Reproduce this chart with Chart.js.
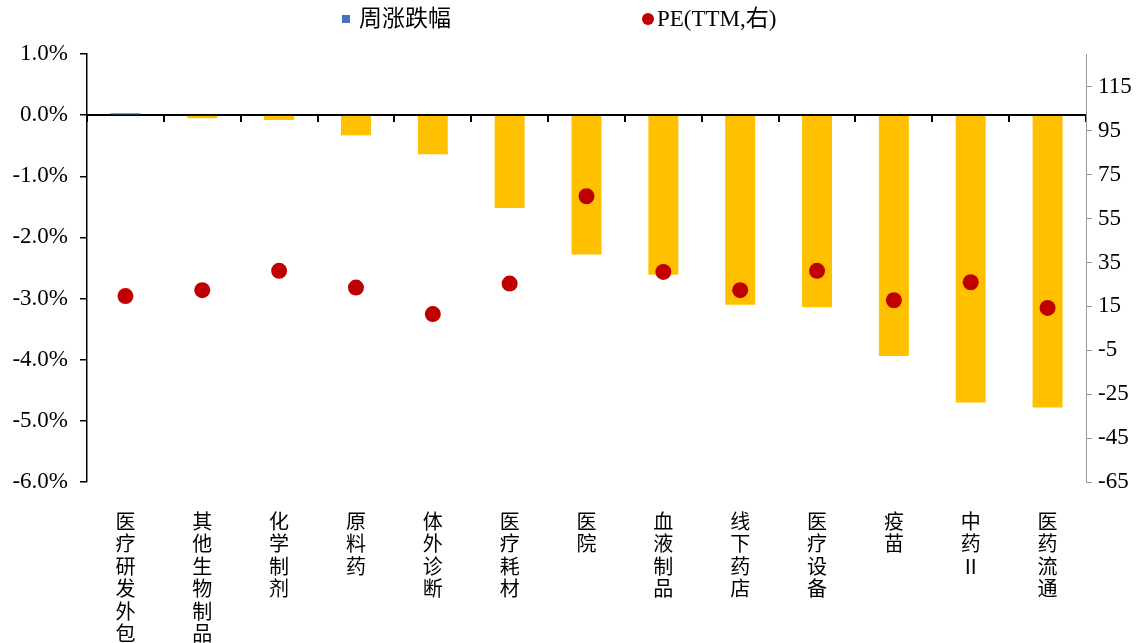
<!DOCTYPE html>
<html>
<head>
<meta charset="utf-8">
<script src="https://cdn.jsdelivr.net/npm/chart.js@4.4.1/dist/chart.umd.min.js"></script>
<style>
    html, body { margin: 0; padding: 0; background: #fff; }
    #wrap { position: relative; width: 1148px; height: 643px; }
    #legend { position: absolute; top: 0; left: 0; width: 1148px; height: 40px; font-family: 'Liberation Serif', 'Noto Sans CJK SC', serif; font-size: 23px; color: #000; }
    .item { position: absolute; top: 5px; line-height: 28px; white-space: nowrap; }
    .sq { display: inline-block; width: 8px; height: 8px; background: #4472C4; margin-right: 9px; vertical-align: middle; position: relative; top: -2px; }
    .dot { display: inline-block; width: 12px; height: 12px; border-radius: 50%; background: #C00000; margin-right: 3px; vertical-align: middle; position: relative; top: -2px; }
</style>
</head>
<body>
<div id="wrap">
    <canvas id="chart"></canvas>
    <div id="legend">
        <div class="item" style="left: 342px;"><span class="sq"></span>周涨跌幅</div>
        <div class="item" style="left: 642px;"><span class="dot"></span>PE(TTM,右)</div>
    </div>
</div>
<script>
// categories and series
const categories = ['医疗研发外包', '其他生物制品', '化学制剂', '原料药', '体外诊断', '医疗耗材', '医院', '血液制品', '线下药店', '医疗设备', '疫苗', '中药Ⅱ', '医药流通'];
const weeklyChange = [0.03, -0.05, -0.08, -0.33, -0.64, -1.52, -2.28, -2.61, -3.10, -3.14, -3.94, -4.70, -4.78];
const peTTM = [19.7, 22.4, 31.2, 23.6, 11.5, 25.4, 65.2, 30.7, 22.4, 31.2, 17.8, 26.0, 14.3];
const peTicks = [-65, -45, -25, -5, 15, 35, 55, 75, 95, 115];

const serif = "'Liberation Serif', 'Noto Sans CJK SC', serif";

new Chart(document.getElementById('chart'), {
    type: 'bar',
    data: {
        labels: categories,
        datasets: [{
            label: '周涨跌幅',
            data: weeklyChange,
            backgroundColor: weeklyChange.map(v => v >= 0 ? '#4472C4' : '#FFC000'),
            categoryPercentage: 1,
            barPercentage: 0.39,
            xAxisID: 'x',
            yAxisID: 'y',
            order: 2
        }, {
            type: 'line',
            label: 'PE(TTM,右)',
            data: peTTM,
            showLine: false,
            pointRadius: 8,
            pointHoverRadius: 8,
            pointBackgroundColor: '#C00000',
            pointBorderColor: '#C00000',
            pointBorderWidth: 0,
            xAxisID: 'x',
            yAxisID: 'y1',
            order: 1
        }]
    },
    options: {
        responsive: true,
        maintainAspectRatio: false,
        animation: false,
        layout: { padding: { top: 54, left: 0, right: 0, bottom: 0 } },
        plugins: { legend: { display: false }, tooltip: { enabled: false } },
        scales: {
            x: {
                type: 'category',
                offset: true,
                grid: { display: false, offset: true },
                border: { display: false },
                ticks: {
                    autoSkip: false,
                    maxRotation: 0,
                    padding: 20,
                    color: '#000',
                    font: { family: "'Noto Sans CJK SC', sans-serif", size: 20, lineHeight: '22.5px' },
                    callback: function (v, i) { return categories[i].split(''); }
                },
                afterFit: s => { s.height = 161; }
            },
            x2: {
                type: 'category',
                position: { y: 0 },
                offset: true,
                grid: { display: true, offset: true, drawOnChartArea: false, drawTicks: true, tickLength: 6, color: '#000', lineWidth: 2 },
                border: { display: true, color: '#000', width: 2 },
                ticks: { display: false }
            },
            y: {
                position: 'left',
                min: -6,
                max: 1,
                grid: { drawOnChartArea: false, drawTicks: true, tickLength: 7, color: '#000', lineWidth: 1.5 },
                border: { color: '#000', width: 1.5 },
                ticks: {
                    stepSize: 1,
                    padding: 12,
                    color: '#000',
                    font: { family: serif, size: 23 },
                    callback: v => v.toFixed(1) + '%'
                },
                afterFit: s => { s.width = 87; }
            },
            y1: {
                position: 'right',
                min: -65,
                max: 130,
                grid: { drawOnChartArea: false, drawTicks: true, tickLength: 6, color: '#999', lineWidth: 1 },
                border: { color: '#999', width: 1 },
                afterBuildTicks: s => { s.ticks = peTicks.map(v => ({ value: v })); },
                ticks: {
                    padding: 6,
                    color: '#000',
                    font: { family: serif, size: 23 }
                },
                afterFit: s => { s.width = 62; }
            }
        }
    }
});
</script>
</body>
</html>
